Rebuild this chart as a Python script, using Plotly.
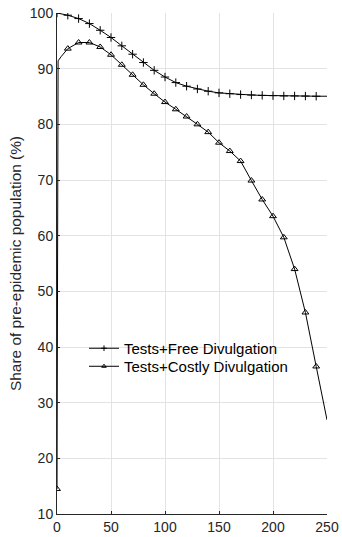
import plotly.graph_objects as go

# Days since the start of the epidemic and population share (%) for each policy
days_free = [0, 10, 20, 30, 40, 50, 60, 70, 80, 90, 100, 110, 120, 130, 140,
             150, 160, 170, 180, 190, 200, 210, 220, 230, 240, 250]
share_free = [100.0, 99.6, 99.0, 98.1, 96.9, 95.6, 94.1, 92.6, 91.1, 89.7,
              88.5, 87.5, 86.85, 86.35, 85.95, 85.65, 85.5, 85.35, 85.27,
              85.2, 85.15, 85.1, 85.1, 85.08, 85.05, 85.05]

days_costly = [0, 1, 4, 7, 10, 20, 30, 40, 50, 60, 70, 80, 90, 100, 110, 120,
               130, 140, 150, 160, 170, 180, 190, 200, 210, 220, 230, 240, 250]
share_costly = [14.5, 91.4, 92.2, 93.0, 93.6, 94.7, 94.7, 93.9, 92.5, 90.7,
                88.9, 87.1, 85.5, 84.0, 82.7, 81.4, 80.0, 78.6, 76.7, 75.2,
                73.4, 69.9, 66.5, 63.5, 59.7, 54.0, 46.2, 36.5, 26.9]

series = [
    ("Tests+Free Divulgation", days_free, share_free, "cross-thin", 6, "legend"),
    ("Tests+Costly Divulgation", days_costly, share_costly, "triangle-up-open", 6, "legend2"),
]

MARK_EVERY = 10
LAST_MARK = 240
FONT = "Liberation Sans, Arial, sans-serif"

fig = go.Figure()
for name, xs, ys, symbol, msize, leg in series:
    # continuous curve
    fig.add_trace(go.Scatter(x=xs, y=ys, mode="lines", showlegend=False,
                             line=dict(color="black", width=1)))
    # markers every 10 days
    mx = [x for x in xs if x % MARK_EVERY == 0 and x <= LAST_MARK]
    my = [y for x, y in zip(xs, ys) if x % MARK_EVERY == 0 and x <= LAST_MARK]
    fig.add_trace(go.Scatter(x=mx, y=my, mode="markers", showlegend=False,
                             marker=dict(symbol=symbol, size=msize, color="black",
                                         line=dict(color="black", width=1))))
    # legend entry
    fig.add_trace(go.Scatter(x=[None], y=[None], mode="lines+markers", name=name,
                             legend=leg,
                             line=dict(color="black", width=1),
                             marker=dict(symbol=symbol, size=4, color="black",
                                         line=dict(color="black", width=1))))

axis_common = dict(
    showgrid=True, gridcolor="#e3e3e3", gridwidth=1,
    showline=True, linecolor="#262626", linewidth=1,
    ticks="inside", ticklen=3, tickcolor="#262626",
    tickfont=dict(family=FONT, size=14, color="#262626"),
    zeroline=False, mirror=False, automargin=False,
)

fig.update_xaxes(range=[0, 250], tickvals=[0, 50, 100, 150, 200, 250], **axis_common)
fig.update_yaxes(range=[10, 100], tickvals=list(range(10, 101, 10)),
                 title=dict(text="Share of pre-epidemic population (%)",
                            font=dict(family=FONT, size=15.4, color="#262626"),
                            standoff=4),
                 **axis_common)

legend_style = dict(x=0.10, xanchor="left", yanchor="top",
                    bgcolor="rgba(0,0,0,0)", borderwidth=0,
                    font=dict(family=FONT, size=15, color="black"))

fig.update_layout(
    width=342, height=537,
    margin=dict(l=57, r=15, t=13, b=23),
    paper_bgcolor="white", plot_bgcolor="white",
    legend=dict(y=0.3633, **legend_style),
    legend2=dict(y=0.3273, **legend_style),
)

fig.write_html("out.html")
